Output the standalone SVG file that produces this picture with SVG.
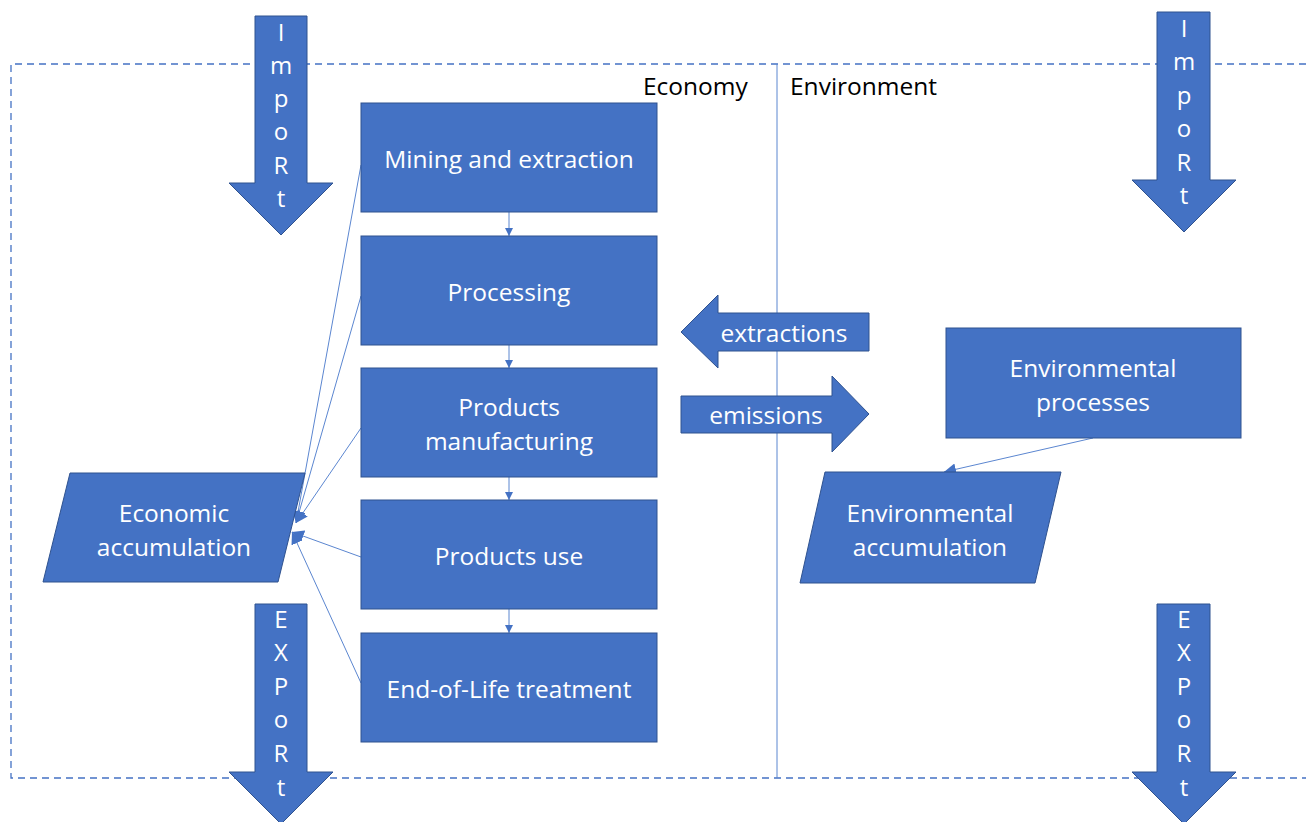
<svg xmlns="http://www.w3.org/2000/svg" width="1306" height="822" viewBox="0 0 1306 822">
<style>
.shape{fill:#4472C4;stroke:#2F528F;stroke-width:1}
.wt{fill:#fff;font-family:"Open Sans","Noto Sans",sans-serif;font-size:24.5px;text-anchor:middle;dominant-baseline:central}
.lt{fill:#fff;font-family:"Open Sans","Noto Sans",sans-serif;font-size:24px;text-anchor:middle;dominant-baseline:central}
.bt{fill:#000;font-family:"Open Sans","Noto Sans",sans-serif;font-size:24.5px;dominant-baseline:central}
.conn{stroke:#5B86D0;stroke-width:1;fill:none}
</style>
<defs>
<marker id="ah" viewBox="0 0 10 10" refX="10" refY="5" markerWidth="8" markerHeight="8" markerUnits="userSpaceOnUse" orient="auto">
<path d="M0,0 L10,5 L0,10 z" fill="#4472C4"/>
</marker>
<marker id="ah2" viewBox="0 0 10 10" refX="10" refY="5" markerWidth="12" markerHeight="12" markerUnits="userSpaceOnUse" orient="auto">
<path d="M0,0 L10,5 L0,10 z" fill="#4472C4"/>
</marker>
</defs>
<g id="frame">
<path d="M1306,64 H11 V778 H1306" fill="none" stroke="#4472C4" stroke-width="1.3" stroke-dasharray="7,5"/>
<line x1="777" y1="64" x2="777" y2="778" stroke="#5B86D0" stroke-width="1"/>
<text class="bt" x="643" y="85">Economy</text>
<text class="bt" x="790" y="85">Environment</text>
</g>
<g id="connectors">
<line class="conn" x1="509" y1="212" x2="509" y2="236" marker-end="url(#ah)"/>
<line class="conn" x1="509" y1="345" x2="509" y2="368" marker-end="url(#ah)"/>
<line class="conn" x1="509" y1="477" x2="509" y2="500" marker-end="url(#ah)"/>
<line class="conn" x1="509" y1="609" x2="509" y2="633" marker-end="url(#ah)"/>
<line class="conn" x1="361" y1="165" x2="296" y2="523" marker-end="url(#ah2)"/>
<line class="conn" x1="361" y1="296" x2="296" y2="523" marker-end="url(#ah2)"/>
<line class="conn" x1="361" y1="428" x2="296" y2="523" marker-end="url(#ah2)"/>
<line class="conn" x1="361" y1="557" x2="292" y2="532" marker-end="url(#ah2)"/>
<line class="conn" x1="361" y1="683" x2="292" y2="532" marker-end="url(#ah2)"/>
<line class="conn" x1="1093" y1="438" x2="944" y2="472" marker-end="url(#ah2)"/>
</g>
<g id="import-left">
<path class="shape" d="M255,16 H307 V183 H333 L281,235 L229,183 H255 Z"/>
<text class="lt" x="281" y="31">I</text>
<text class="lt" x="281" y="64">m</text>
<text class="lt" x="281" y="97">p</text>
<text class="lt" x="281" y="130">o</text>
<text class="lt" x="281" y="164">R</text>
<text class="lt" x="281" y="197">t</text>
</g>
<g id="export-left">
<path class="shape" d="M255,604 H307 V772 H333 L281,824 L229,772 H255 Z"/>
<text class="lt" x="281" y="618">E</text>
<text class="lt" x="281" y="651">X</text>
<text class="lt" x="281" y="685">P</text>
<text class="lt" x="281" y="718">o</text>
<text class="lt" x="281" y="752">R</text>
<text class="lt" x="281" y="786">t</text>
</g>
<g id="import-right">
<path class="shape" d="M1157,12 H1210 V180 H1236 L1184,232 L1132,180 H1157 Z"/>
<text class="lt" x="1184" y="27">I</text>
<text class="lt" x="1184" y="60">m</text>
<text class="lt" x="1184" y="94">p</text>
<text class="lt" x="1184" y="127">o</text>
<text class="lt" x="1184" y="161">R</text>
<text class="lt" x="1184" y="194">t</text>
</g>
<g id="export-right">
<path class="shape" d="M1157,604 H1210 V772 H1236 L1184,824 L1132,772 H1157 Z"/>
<text class="lt" x="1184" y="618">E</text>
<text class="lt" x="1184" y="651">X</text>
<text class="lt" x="1184" y="685">P</text>
<text class="lt" x="1184" y="718">o</text>
<text class="lt" x="1184" y="752">R</text>
<text class="lt" x="1184" y="786">t</text>
</g>
<g id="mining">
<rect class="shape" x="361" y="103" width="296" height="109"/>
<text class="wt" x="509" y="158">Mining and extraction</text>
</g>
<g id="processing">
<rect class="shape" x="361" y="236" width="296" height="109"/>
<text class="wt" x="509" y="291">Processing</text>
</g>
<g id="manufacturing">
<rect class="shape" x="361" y="368" width="296" height="109"/>
<text class="wt" x="509" y="406">Products</text>
<text class="wt" x="509" y="440">manufacturing</text>
</g>
<g id="use">
<rect class="shape" x="361" y="500" width="296" height="109"/>
<text class="wt" x="509" y="555">Products use</text>
</g>
<g id="eol">
<rect class="shape" x="361" y="633" width="296" height="109"/>
<text class="wt" x="509" y="688">End-of-Life treatment</text>
</g>
<g id="economic-accumulation">
<path class="shape" d="M70,473 H305 L278,582 H43 Z"/>
<text class="wt" x="174" y="512">Economic</text>
<text class="wt" x="174" y="546">accumulation</text>
</g>
<g id="extractions">
<path class="shape" d="M869,313 V351 H718 V368 L681,332 L718,295 V313 Z"/>
<text class="wt" x="784" y="332">extractions</text>
</g>
<g id="emissions">
<path class="shape" d="M681,396 H832 V376 L869,414 L832,452 V433 H681 Z"/>
<text class="wt" x="766" y="414">emissions</text>
</g>
<g id="env-processes">
<rect class="shape" x="946" y="328" width="295" height="110"/>
<text class="wt" x="1093" y="367">Environmental</text>
<text class="wt" x="1093" y="401">processes</text>
</g>
<g id="env-accumulation">
<path class="shape" d="M825,472 H1061 L1035,583 H800 Z"/>
<text class="wt" x="930" y="512">Environmental</text>
<text class="wt" x="930" y="546">accumulation</text>
</g>
</svg>
